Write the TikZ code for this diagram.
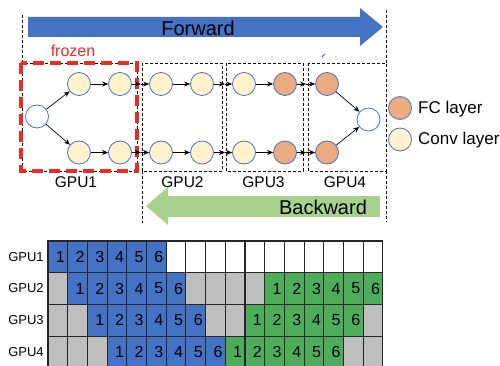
\documentclass[tikz,border=0pt]{standalone}
\usepackage{fontspec}
\setmainfont{Liberation Sans}
\usetikzlibrary{arrows.meta}
\definecolor{fwdblue}{HTML}{4472C4}
\definecolor{bkgreen}{HTML}{A9D18E}
\definecolor{gblue}{HTML}{4472C4}
\definecolor{ggreen}{HTML}{4EAD5B}
\definecolor{ggray}{HTML}{BFBFBF}
\definecolor{conv}{HTML}{FFF2CC}
\definecolor{fc}{HTML}{EAAB80}
\definecolor{nodeblue}{HTML}{4472C4}
\definecolor{frzred}{HTML}{EE2A24}
\begin{document}
\begin{tikzpicture}[x=1pt,y=-1pt,
  lay/.style={circle, draw=nodeblue, line width=0.8pt, minimum size=23pt, inner sep=0pt},
  convl/.style={lay, fill=conv},
  fcl/.style={lay, fill=fc},
  inl/.style={lay, fill=white},
  conn/.style={-{Stealth[length=6pt,width=5pt]}, line width=0.7pt, black},
  gbox/.style={draw=black, dashed, line width=0.8pt, dash pattern=on 3pt off 2pt},
  cell/.style={draw=black!85, line width=1.1pt, minimum width=19.7pt, minimum height=31.7pt, inner sep=0pt, font=\fontsize{16}{18}\selectfont},
  big/.style={font=\fontsize{20}{22}\selectfont},
  gpul/.style={font=\fontsize{15.5}{17}\selectfont},
  rowl/.style={font=\fontsize{13}{15}\selectfont},
  legl/.style={font=\fontsize{17}{19}\selectfont, anchor=west, inner sep=0pt}]
\useasboundingbox (0,0) rectangle (500,366);

% Forward arrow
\fill[fwdblue] (28,17) -- (360,17) -- (360,8) -- (383,27) -- (360,46) -- (360,37) -- (28,37) -- cycle;
\node[big] (fwd) at (198,28) {Forward};

% Backward arrow
\fill[bkgreen] (146,206) -- (168,187) -- (168,196) -- (380,196) -- (380,217) -- (168,217) -- (168,225) -- cycle;
\node[big] (bwd) at (323,207) {Backward};

% dashed GPU boxes and guide lines
\draw[gbox] (22,15) -- (22,63);
\draw[gbox] (22,63) rectangle (137,171);
\draw[gbox] (142,63) rectangle (222,171);
\draw[gbox] (226,63) rectangle (303,171);
\draw[gbox] (308,63) rectangle (386,171);
\draw[gbox] (386,10) -- (386,63);
\draw[gbox] (386,171) -- (386,222);
\draw[gbox] (142,171) -- (142,223);

% frozen box
\draw[frzred, line width=3.5pt, dash pattern=on 11pt off 6pt] (21,63) rectangle (137,171);
\node[text=frzred, font=\fontsize{16}{18}\selectfont] (frz) at (73,51) {frozen};

% small blue tick
\draw[fwdblue, line width=1.2pt] (322,57) -- (324.5,54);

% network nodes
\node[inl] (in) at (37,116.5) {};
\node[inl] (out) at (368.5,119.5) {};
\node[convl] (t1) at (79,84) {};
\node[convl] (t2) at (120,84) {};
\node[convl] (t3) at (161,84) {};
\node[convl] (t4) at (202,84) {};
\node[convl] (t5) at (244,84) {};
\node[fcl] (t6) at (285,84) {};
\node[fcl] (t7) at (327,84) {};
\node[convl] (b1) at (79,152.5) {};
\node[convl] (b2) at (120,152.5) {};
\node[convl] (b3) at (161,152.5) {};
\node[convl] (b4) at (202,152.5) {};
\node[convl] (b5) at (244,152.5) {};
\node[fcl] (b6) at (285,152.5) {};
\node[fcl] (b7) at (327,152.5) {};

% boundary coordinates
\coordinate (tA) at (141,84);
\coordinate (tB) at (225,84);
\coordinate (tC) at (306,84);
\coordinate (bA) at (141,152.5);
\coordinate (bB) at (225,152.5);
\coordinate (bC) at (306,152.5);

\draw[conn] (in) -- (t1);
\draw[conn] (in) -- (b1);
\draw[conn] (t1) -- (t2);
\draw[conn] (t2) -- (tA);
\draw[conn] (tA) -- (t3);
\draw[conn] (t3) -- (t4);
\draw[conn] (t4) -- (tB);
\draw[conn] (tB) -- (t5);
\draw[conn] (t5) -- (t6);
\draw[conn] (t6) -- (tC);
\draw[conn] (tC) -- (t7);
\draw[conn] (t7) -- (out);
\draw[conn] (b1) -- (b2);
\draw[conn] (b2) -- (bA);
\draw[conn] (bA) -- (b3);
\draw[conn] (b3) -- (b4);
\draw[conn] (b4) -- (bB);
\draw[conn] (bB) -- (b5);
\draw[conn] (b5) -- (b6);
\draw[conn] (b6) -- (bC);
\draw[conn] (bC) -- (b7);
\draw[conn] (b7) -- (out);

% GPU labels
\node[gpul] (g1) at (76,182) {GPU1};
\node[gpul] (g2) at (182.5,182) {GPU2};
\node[gpul] (g3) at (263.5,182) {GPU3};
\node[gpul] (g4) at (345,182) {GPU4};

% legend
\node[fcl] (lfc) at (400,108) {};
\node[convl] (lcv) at (400,139.5) {};
\node[legl] (tfc) at (418,109) {FC layer};
\node[legl] (tcv) at (418,140.5) {Conv layer};

% schedule grid
\foreach \r in {0,1,2,3}{
  \foreach \c in {0,...,16}{
    \pgfmathtruncatemacro\bi{\c-\r+1}
    \pgfmathtruncatemacro\gi{\c+\r-11}
    \def\fcol{ggray}\def\tx{}
    \ifnum\r=0 \def\fcol{white}\fi
    \ifnum\bi>0 \ifnum\bi<7 \def\fcol{gblue}\edef\tx{\bi}\fi\fi
    \ifnum\r>0 \ifnum\gi>0 \ifnum\gi<7 \def\fcol{ggreen}\edef\tx{\gi}\fi\fi\fi
    \node[cell, fill=\fcol] (cell\r-\c) at ({48+19.7*(\c+0.5)},{241+31.7*(\r+0.5)}) {\hspace{5pt}\tx};
  }
}
\node[rowl] (r1) at (26,257) {GPU1};
\node[rowl] (r2) at (26,288.5) {GPU2};
\node[rowl] (r3) at (26,320.5) {GPU3};
\node[rowl] (r4) at (26,352) {GPU4};
\end{tikzpicture}
\end{document}
